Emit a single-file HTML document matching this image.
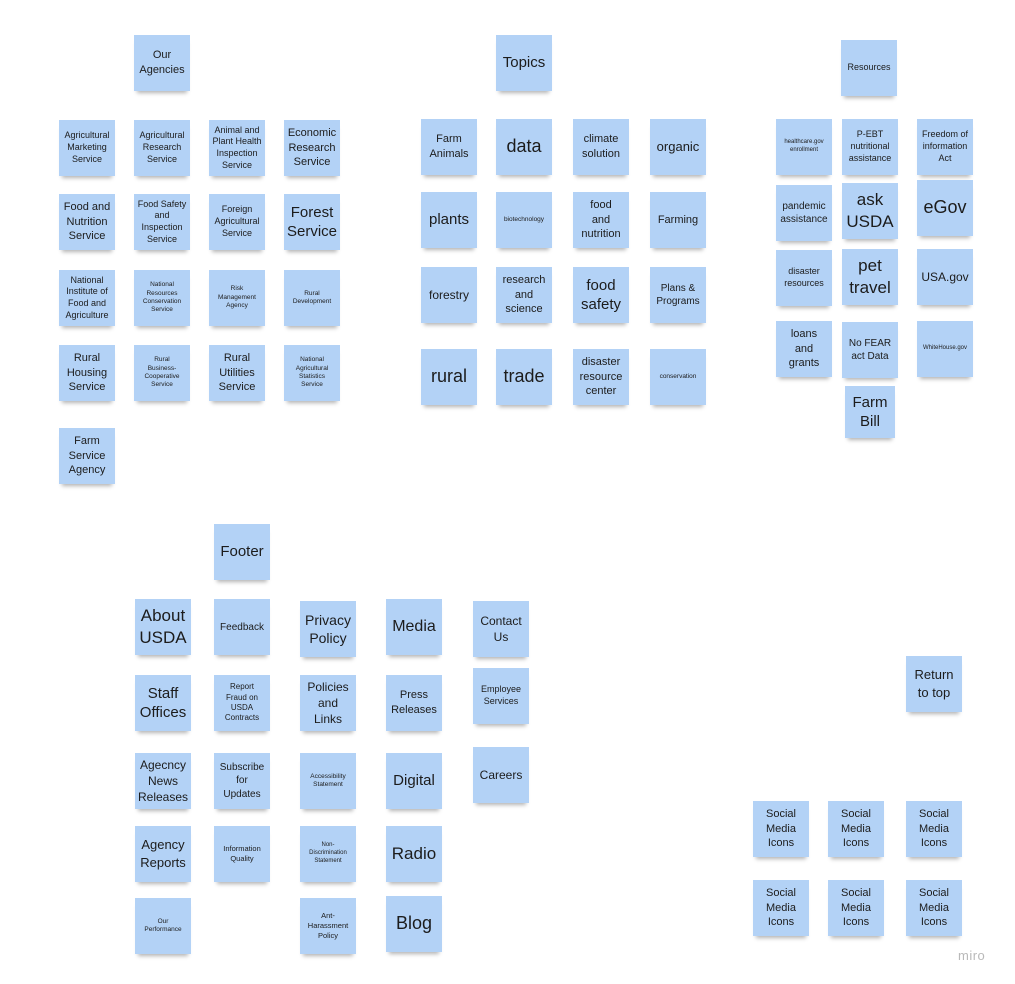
<!DOCTYPE html>
<html><head><meta charset="utf-8"><style>
body{margin:0;width:1015px;height:984px;background:#fff;position:relative;overflow:hidden;font-family:"Liberation Sans",sans-serif}
.n{position:absolute;width:56px;height:56px;background:#b3d2f6;display:flex;align-items:center;justify-content:center;text-align:center;color:#1c1c1c;line-height:1.3;font-size:9px;box-shadow:0 5px 4px -3px rgba(0,0,0,.3);box-sizing:border-box;padding:0 2px}
.s{font-size:6.5px}.m{font-size:11px;line-height:1.35}.l{font-size:15px;line-height:1.3}.xl{font-size:18px}
.miro{position:absolute;left:958px;top:948px;color:#b9b9b9;font-size:13px;letter-spacing:.5px}
</style></head><body>
<div class="n m" style="left:134px;top:35px">Our<br>Agencies</div>
<div class="n" style="left:59px;top:120px">Agricultural<br>Marketing<br>Service</div>
<div class="n" style="left:134px;top:120px">Agricultural<br>Research<br>Service</div>
<div class="n" style="left:209px;top:120px">Animal and<br>Plant Health<br>Inspection<br>Service</div>
<div class="n m" style="left:284px;top:120px">Economic<br>Research<br>Service</div>
<div class="n m" style="left:59px;top:194px">Food and<br>Nutrition<br>Service</div>
<div class="n" style="left:134px;top:194px">Food Safety<br>and<br>Inspection<br>Service</div>
<div class="n" style="left:209px;top:194px">Foreign<br>Agricultural<br>Service</div>
<div class="n l" style="left:284px;top:194px">Forest<br>Service</div>
<div class="n" style="left:59px;top:270px">National<br>Institute of<br>Food and<br>Agriculture</div>
<div class="n s" style="left:134px;top:270px">National<br>Resources<br>Conservation<br>Service</div>
<div class="n s" style="left:209px;top:270px">Risk<br>Management<br>Agency</div>
<div class="n s" style="left:284px;top:270px">Rural<br>Development</div>
<div class="n m" style="left:59px;top:345px">Rural<br>Housing<br>Service</div>
<div class="n s" style="left:134px;top:345px">Rural<br>Business-<br>Cooperative<br>Service</div>
<div class="n m" style="left:209px;top:345px">Rural<br>Utilities<br>Service</div>
<div class="n s" style="left:284px;top:345px">National<br>Agricultural<br>Statistics<br>Service</div>
<div class="n m" style="left:59px;top:428px">Farm<br>Service<br>Agency</div>

<div class="n l" style="left:496px;top:35px">Topics</div>
<div class="n m" style="left:421px;top:119px">Farm<br>Animals</div>
<div class="n xl" style="left:496px;top:119px">data</div>
<div class="n m" style="left:573px;top:119px">climate<br>solution</div>
<div class="n l" style="left:650px;top:119px;font-size:13px">organic</div>
<div class="n l" style="left:421px;top:192px">plants</div>
<div class="n s" style="left:496px;top:192px">biotechnology</div>
<div class="n m" style="left:573px;top:192px">food<br>and<br>nutrition</div>
<div class="n m" style="left:650px;top:192px">Farming</div>
<div class="n m" style="left:421px;top:267px;font-size:12px">forestry</div>
<div class="n m" style="left:496px;top:267px">research<br>and<br>science</div>
<div class="n l" style="left:573px;top:267px">food<br>safety</div>
<div class="n" style="left:650px;top:267px;font-size:10px">Plans &amp;<br>Programs</div>
<div class="n xl" style="left:421px;top:349px">rural</div>
<div class="n xl" style="left:496px;top:349px">trade</div>
<div class="n m" style="left:573px;top:349px">disaster<br>resource<br>center</div>
<div class="n s" style="left:650px;top:349px">conservation</div>

<div class="n" style="left:841px;top:40px">Resources</div>
<div class="n s" style="left:776px;top:119px;font-size:6px">healthcare.gov<br>enrollment</div>
<div class="n" style="left:842px;top:119px">P-EBT<br>nutritional<br>assistance</div>
<div class="n" style="left:917px;top:119px">Freedom of<br>information<br>Act</div>
<div class="n m" style="left:776px;top:185px;font-size:10px">pandemic<br>assistance</div>
<div class="n l" style="left:842px;top:183px;font-size:17px">ask<br>USDA</div>
<div class="n xl" style="left:917px;top:180px">eGov</div>
<div class="n" style="left:776px;top:250px">disaster<br>resources</div>
<div class="n l" style="left:842px;top:249px;font-size:17px">pet<br>travel</div>
<div class="n m" style="left:917px;top:249px;font-size:12px">USA.gov</div>
<div class="n m" style="left:776px;top:321px">loans<br>and<br>grants</div>
<div class="n" style="left:842px;top:322px;font-size:10px">No FEAR<br>act Data</div>
<div class="n s" style="left:917px;top:321px;font-size:6px">WhiteHouse.gov</div>
<div class="n l" style="left:845px;top:386px;height:52px;width:50px">Farm<br>Bill</div>

<div class="n l" style="left:214px;top:524px">Footer</div>
<div class="n xl" style="left:135px;top:599px;font-size:17px">About<br>USDA</div>
<div class="n" style="left:214px;top:599px;font-size:10px">Feedback</div>
<div class="n l" style="left:300px;top:601px;font-size:14px">Privacy<br>Policy</div>
<div class="n l" style="left:386px;top:599px;font-size:16px">Media</div>
<div class="n m" style="left:473px;top:601px;font-size:12px">Contact<br>Us</div>
<div class="n l" style="left:135px;top:675px">Staff<br>Offices</div>
<div class="n" style="left:214px;top:675px;font-size:8px">Report<br>Fraud on<br>USDA<br>Contracts</div>
<div class="n m" style="left:300px;top:675px;font-size:12px">Policies<br>and<br>Links</div>
<div class="n m" style="left:386px;top:675px">Press<br>Releases</div>
<div class="n" style="left:473px;top:668px">Employee<br>Services</div>
<div class="n m" style="left:135px;top:753px;font-size:12px">Agecncy<br>News<br>Releases</div>
<div class="n m" style="left:214px;top:753px;font-size:10px">Subscribe<br>for<br>Updates</div>
<div class="n s" style="left:300px;top:753px">Accessibility<br>Statement</div>
<div class="n l" style="left:386px;top:753px">Digital</div>
<div class="n m" style="left:473px;top:747px;font-size:12px">Careers</div>
<div class="n m" style="left:135px;top:826px;font-size:13px">Agency<br>Reports</div>
<div class="n s" style="left:214px;top:826px;font-size:7.5px">Information<br>Quality</div>
<div class="n s" style="left:300px;top:826px;font-size:6px">Non-<br>Discrimination<br>Statement</div>
<div class="n l" style="left:386px;top:826px;font-size:17px">Radio</div>
<div class="n s" style="left:135px;top:898px">Our<br>Performance</div>
<div class="n s" style="left:300px;top:898px;font-size:7.5px">Ant-<br>Harassment<br>Policy</div>
<div class="n xl" style="left:386px;top:896px">Blog</div>

<div class="n m" style="left:906px;top:656px;font-size:13px">Return<br>to top</div>
<div class="n m" style="left:753px;top:801px">Social<br>Media<br>Icons</div>
<div class="n m" style="left:828px;top:801px">Social<br>Media<br>Icons</div>
<div class="n m" style="left:906px;top:801px">Social<br>Media<br>Icons</div>
<div class="n m" style="left:753px;top:880px">Social<br>Media<br>Icons</div>
<div class="n m" style="left:828px;top:880px">Social<br>Media<br>Icons</div>
<div class="n m" style="left:906px;top:880px">Social<br>Media<br>Icons</div>
<div class="miro">miro</div>
</body></html>
